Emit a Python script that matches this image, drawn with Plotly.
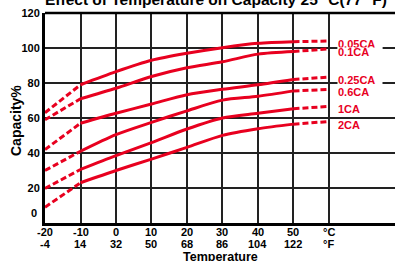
import plotly.graph_objects as go

# ---- data ----
temps_c = [-20, -10, 0, 10, 20, 30, 40, 50, 60]
tick_c = ["-20", "-10", "0", "10", "20", "30", "40", "50", "°C"]
tick_f = ["-4", "14", "32", "50", "68", "86", "104", "122", "°F"]

series_names = ["0.05CA", "0.1CA", "0.25CA", "0.6CA", "1CA", "2CA"]
cap_005 = [63, 79, 86.5, 93, 97, 100.2, 102.7, 103.6, 104]
cap_01 = [59, 71, 77, 83.7, 88.7, 92.1, 96.5, 98, 99.5]
cap_025 = [42, 57, 62.7, 68, 73.3, 76.4, 79, 82, 83.4]
cap_06 = [30, 41, 50.5, 57.5, 64.1, 70.2, 72.4, 75.5, 76.3]
cap_1 = [19.7, 30.6, 38.5, 45.9, 53.7, 60, 62.7, 65.3, 66.6]
cap_2 = [9, 23, 30, 36.5, 43.2, 50.1, 53.9, 56.5, 58]
all_series = [cap_005, cap_01, cap_025, cap_06, cap_1, cap_2]

y_ticks = [0, 20, 40, 60, 80, 100, 120]

title_text = "Effect of Temperature on Capacity 25 °C(77 °F)"
x_title = "Temperature"
y_title = "Capacity%"

RED = "#e8001f"
FONT = "Liberation Sans, Arial, sans-serif"
BOLD11 = dict(family=FONT, size=11, color="black", weight="bold")

fig = go.Figure()
for name, vals in zip(series_names, all_series):
    fig.add_trace(go.Scatter(x=temps_c[0:2], y=vals[0:2], mode="lines",
                             line=dict(color=RED, width=3, dash="6px,3px"),
                             showlegend=False, hoverinfo="skip"))
    fig.add_trace(go.Scatter(x=temps_c[1:8], y=vals[1:8], mode="lines",
                             line=dict(color=RED, width=3, shape="spline", smoothing=0.8),
                             showlegend=False, name=name))
    fig.add_trace(go.Scatter(x=temps_c[7:9], y=vals[7:9], mode="lines",
                             line=dict(color=RED, width=3, dash="6px,3px"),
                             showlegend=False, hoverinfo="skip"))
    fig.add_annotation(x=temps_c[-1], y=vals[-1], xref="x", yref="y",
                       text=name, showarrow=False, xanchor="left", xshift=8,
                       yshift=-3, align="left", valign="middle", width=44, height=8,
                       bgcolor="white", borderpad=0,
                       font=dict(family=FONT, size=11, color=RED, weight="bold"))

# x tick labels in two rows (°C, °F)
for c, cl, fl in zip(temps_c, tick_c, tick_f):
    fig.add_annotation(x=c, xref="x", y=0, yref="paper", yanchor="middle", yshift=-9,
                       text=cl, showarrow=False, font=BOLD11)
    fig.add_annotation(x=c, xref="x", y=0, yref="paper", yanchor="middle", yshift=-21,
                       text=fl, showarrow=False, font=BOLD11)

# y tick "0" lifted as in the reference
fig.add_annotation(x=0, xref="paper", xanchor="right", xshift=-6, y=y_ticks[0], yref="y",
                   yshift=10, text=str(y_ticks[0]), showarrow=False, font=BOLD11)

# x axis title
fig.add_annotation(x=0.5, xref="paper", y=0, yref="paper", yanchor="middle", yshift=-34,
                   text=x_title, showarrow=False,
                   font=dict(family=FONT, size=12.5, color="black", weight="bold"))

# y axis title
fig.add_annotation(x=0, xref="paper", xanchor="center", xshift=-29, y=0.5, yref="paper",
                   yanchor="middle", yshift=-3, textangle=-90, text=y_title, showarrow=False,
                   font=dict(family=FONT, size=14, color="black", weight="bold"))

# cut-off title
fig.add_annotation(x=0, xref="paper", xanchor="left", xshift=-2, y=1, yref="paper",
                   yanchor="middle", yshift=14, text=title_text, showarrow=False,
                   font=dict(family=FONT, size=15.5, color="black", weight="bold"))

# top border line
fig.add_shape(type="line", xref="paper", yref="paper", x0=0, x1=1, y0=1, y1=1,
              line=dict(color="black", width=2.5))

fig.update_layout(
    width=395, height=261,
    margin=dict(l=45, r=0, t=13, b=38),
    paper_bgcolor="white", plot_bgcolor="white",
    font=dict(family=FONT, color="black"),
    xaxis=dict(range=[-20, 78.6], tickmode="array", tickvals=temps_c,
               showticklabels=False,
               showgrid=True, gridcolor="#222", gridwidth=1.5,
               showline=True, linecolor="black", linewidth=3,
               ticks="", zeroline=False),
    yaxis=dict(range=[0, 120], tickmode="array", tickvals=y_ticks[1:],
               ticktext=[str(v) for v in y_ticks[1:]],
               tickfont=dict(size=11, weight="bold"),
               showgrid=True, gridcolor="#222", gridwidth=1.5,
               showline=True, linecolor="black", linewidth=3,
               ticks="", zeroline=False),
)

fig.write_html("out.html", config={"displayModeBar": False},
               post_script="document.body.style.margin='0';document.body.style.overflow='hidden';")
